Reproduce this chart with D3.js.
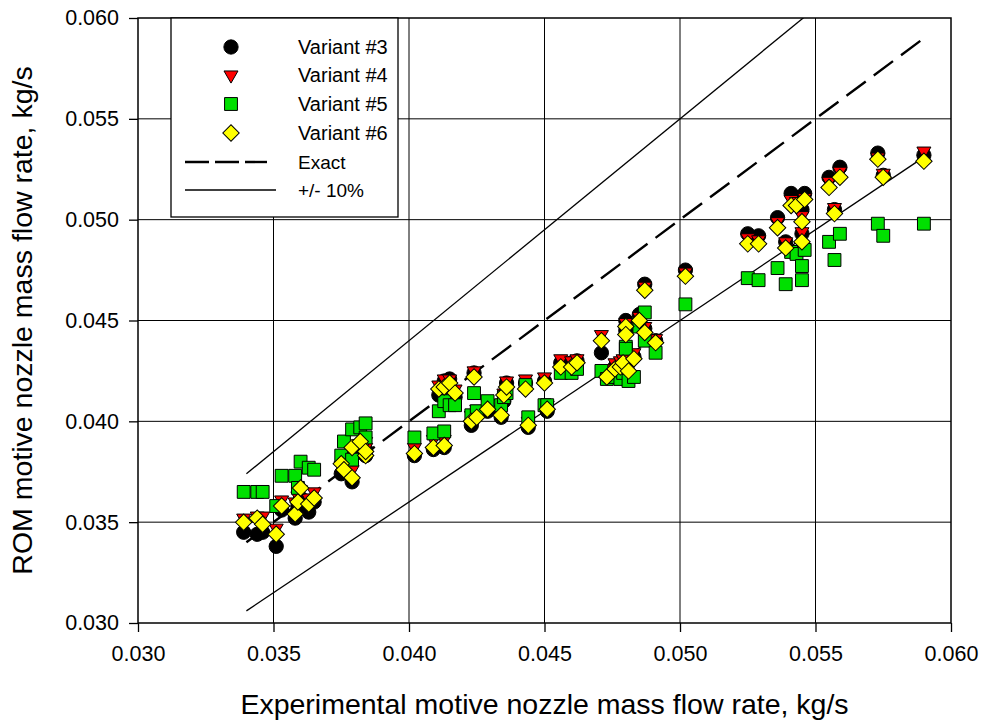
<!DOCTYPE html>
<html>
<head>
<meta charset="utf-8">
<script src="https://cdn.jsdelivr.net/npm/d3@7/dist/d3.min.js"></script>
<style>
  html, body { margin: 0; padding: 0; background: #fff; }
  svg { display: block; font-family: Arial, "Liberation Sans", sans-serif; }
</style>
</head>
<body>
<svg id="chart" width="984" height="722"></svg>
<script>
// ---------------- data ----------------
const xTicks = [0.030, 0.035, 0.040, 0.045, 0.050, 0.055, 0.060];
const yTicks = [0.030, 0.035, 0.040, 0.045, 0.050, 0.055, 0.060];

// experimental motive nozzle mass flow rate (kg/s)
const expFlow = [
  0.0339, 0.0344, 0.0346, 0.0351, 0.0353, 0.0358, 0.0359, 0.0360, 0.0363, 0.0365,
  0.0375, 0.0376, 0.0379, 0.0379, 0.0382, 0.0384, 0.0384, 0.0402, 0.0409, 0.0413,
  0.0411, 0.0413, 0.0415, 0.0417, 0.0423, 0.0424, 0.0425, 0.0429, 0.0434, 0.0435,
  0.0436, 0.0443, 0.0444, 0.0450, 0.0451, 0.0456, 0.0460, 0.0462, 0.0471, 0.0473,
  0.0476, 0.0478, 0.0479, 0.0480, 0.0480, 0.0481, 0.0483, 0.0485, 0.0487, 0.0487,
  0.0491, 0.0502, 0.0525, 0.0529, 0.0536, 0.0539, 0.0541, 0.0543, 0.0545, 0.0545,
  0.0546, 0.0555, 0.0557, 0.0559, 0.0573, 0.0575, 0.0590
];
// ROM predictions (kg/s)
const variant3 = [
  0.0345, 0.0344, 0.0345, 0.0338, 0.0356, 0.0352, 0.0358, 0.0362, 0.0355, 0.0360,
  0.0374, 0.0378, 0.0370, 0.0384, 0.0385, 0.0383, 0.0386, 0.0383, 0.0386, 0.0387,
  0.0413, 0.0420, 0.0421, 0.0412, 0.0398, 0.0424, 0.0403, 0.0405, 0.0402, 0.0410,
  0.0419, 0.0419, 0.0397, 0.0420, 0.0405, 0.0429, 0.0429, 0.0430, 0.0434, 0.0424,
  0.0427, 0.0428, 0.0429, 0.0450, 0.0445, 0.0424, 0.0432, 0.0453, 0.0468, 0.0446,
  0.0440, 0.0475, 0.0493, 0.0492, 0.0501, 0.0489, 0.0513, 0.0511, 0.0505, 0.0493,
  0.0513, 0.0521, 0.0505, 0.0526, 0.0533, 0.0522, 0.0532
];
const variant4 = [
  0.0352, 0.0353, 0.0353, 0.0347, 0.0361, 0.0360, 0.0363, 0.0366, 0.0362, 0.0365,
  0.0378, 0.0381, 0.0376, 0.0386, 0.0389, 0.0387, 0.0390, 0.0387, 0.0391, 0.0391,
  0.0418, 0.0421, 0.0421, 0.0416, 0.0403, 0.0425, 0.0406, 0.0409, 0.0406, 0.0414,
  0.0420, 0.0421, 0.0400, 0.0422, 0.0408, 0.0431, 0.0430, 0.0431, 0.0443, 0.0426,
  0.0429, 0.0430, 0.0431, 0.0449, 0.0446, 0.0426, 0.0434, 0.0452, 0.0467, 0.0447,
  0.0441, 0.0474, 0.0491, 0.0490, 0.0499, 0.0489, 0.0510, 0.0509, 0.0502, 0.0494,
  0.0511, 0.0519, 0.0506, 0.0524, 0.0531, 0.0523, 0.0534
];
const variant5 = [
  0.0365, 0.0365, 0.0365, 0.0358, 0.0373, 0.0373, 0.0367, 0.0380, 0.0377, 0.0376,
  0.0383, 0.0390, 0.0396, 0.0381, 0.0397, 0.0399, 0.0392, 0.0392, 0.0394, 0.0395,
  0.0405, 0.0410, 0.0408, 0.0408, 0.0403, 0.0414, 0.0405, 0.0410, 0.0408, 0.0412,
  0.0414, 0.0418, 0.0402, 0.0408, 0.0408, 0.0424, 0.0424, 0.0426, 0.0425, 0.0421,
  0.0422, 0.0421, 0.0424, 0.0437, 0.0436, 0.0420, 0.0422, 0.0447, 0.0454, 0.0440,
  0.0434, 0.0458, 0.0471, 0.0470, 0.0476, 0.0468, 0.0484, 0.0483, 0.0477, 0.0470,
  0.0485, 0.0489, 0.0480, 0.0493, 0.0498, 0.0492, 0.0498
];
const variant6 = [
  0.0350, 0.0352, 0.0349, 0.0344, 0.0358, 0.0354, 0.0360, 0.0367, 0.0359, 0.0362,
  0.0379, 0.0376, 0.0372, 0.0387, 0.0390, 0.0383, 0.0385, 0.0384, 0.0387, 0.0388,
  0.0416, 0.0417, 0.0419, 0.0414, 0.0400, 0.0422, 0.0402, 0.0406, 0.0403, 0.0413,
  0.0417, 0.0416, 0.0398, 0.0419, 0.0406, 0.0427, 0.0427, 0.0429, 0.0440, 0.0422,
  0.0426, 0.0427, 0.0429, 0.0447, 0.0443, 0.0425, 0.0431, 0.0450, 0.0465, 0.0444,
  0.0439, 0.0472, 0.0488, 0.0488, 0.0496, 0.0486, 0.0507, 0.0507, 0.0499, 0.0489,
  0.0510, 0.0516, 0.0503, 0.0521, 0.0530, 0.0521, 0.0529
];
const seriesNames = ["Variant #3", "Variant #4", "Variant #5", "Variant #6"];
const seriesColors = ["#000000", "#ff0000", "#00e000", "#ffff00"];
const refLineRange = [0.034, 0.059];
const refFactors = [1.0, 1.1, 0.9];
const xTitle = "Experimental motive nozzle mass flow rate, kg/s";
const yTitle = "ROM motive nozzle mass flow rate, kg/s";

// ---------------- chart ----------------
const svg = d3.select("#chart");
const M = { left: 138, right: 951, top: 18, bottom: 623 };
const x = d3.scaleLinear().domain([0.030, 0.060]).range([M.left, M.right]);
const y = d3.scaleLinear().domain([0.030, 0.060]).range([M.bottom, M.top]);

svg.append("rect").attr("width", 984).attr("height", 722).attr("fill", "#fff");

// grid
const grid = svg.append("g");
grid.selectAll("line.gx").data(xTicks.slice(1, -1)).join("line")
  .attr("x1", d => x(d)).attr("x2", d => x(d))
  .attr("y1", M.top).attr("y2", M.bottom)
  .attr("stroke", "#000").attr("stroke-width", 1);
grid.selectAll("line.gy").data(yTicks.slice(1, -1)).join("line")
  .attr("y1", d => y(d)).attr("y2", d => y(d))
  .attr("x1", M.left).attr("x2", M.right)
  .attr("stroke", "#000").attr("stroke-width", 1);

// axes
const fmt = d3.format(".3f");
const xAxis = svg.append("g").attr("transform", `translate(0,${M.bottom})`)
  .call(d3.axisBottom(x).tickValues(xTicks).tickFormat(fmt).tickSize(9).tickPadding(14));
const yAxis = svg.append("g").attr("transform", `translate(${M.left},0)`)
  .call(d3.axisLeft(y).tickValues(yTicks).tickFormat(fmt).tickSize(9).tickPadding(10));
[xAxis, yAxis].forEach(a => {
  a.select(".domain").remove();
  a.selectAll("line").attr("stroke", "#000").attr("stroke-width", 1.3);
  a.selectAll("text").attr("font-size", 21.5).attr("fill", "#000")
    .attr("font-family", "Arial, 'Liberation Sans', sans-serif");
});

// frame
svg.append("rect").attr("x", M.left).attr("y", M.top)
  .attr("width", M.right - M.left).attr("height", M.bottom - M.top)
  .attr("fill", "none").attr("stroke", "#000").attr("stroke-width", 1.5);

// clip
svg.append("clipPath").attr("id", "plotclip").append("rect")
  .attr("x", M.left).attr("y", M.top).attr("width", M.right - M.left).attr("height", M.bottom - M.top);

// reference lines
const refG = svg.append("g").attr("clip-path", "url(#plotclip)");
refFactors.forEach((f, i) => {
  refG.append("line")
    .attr("x1", x(refLineRange[0])).attr("y1", y(refLineRange[0] * f))
    .attr("x2", x(refLineRange[1])).attr("y2", y(refLineRange[1] * f))
    .attr("stroke", "#000")
    .attr("stroke-width", i === 0 ? 2.4 : 1.3)
    .attr("stroke-dasharray", i === 0 ? "24,10" : null);
});

// markers
const series = [variant3, variant4, variant5, variant6];
const sym = [
  d3.symbol().type(d3.symbolCircle).size(160),
  d3.symbol().type(d3.symbolTriangle).size(85),
  d3.symbol().type(d3.symbolSquare).size(165),
  d3.symbol().type(d3.symbolSquare).size(135)
];
function markerPath(i) { return sym[i](); }
function markerTransform(i, px, py) {
  if (i === 1) return `translate(${px},${py}) rotate(180)`;
  if (i === 3) return `translate(${px},${py}) rotate(45)`;
  return `translate(${px},${py})`;
}
const mg = svg.append("g").attr("clip-path", "url(#plotclip)");
series.forEach((vals, i) => {
  mg.append("g").selectAll("path").data(vals).join("path")
    .attr("d", markerPath(i))
    .attr("transform", (d, k) => markerTransform(i, x(expFlow[k]), y(d)))
    .attr("fill", seriesColors[i])
    .attr("stroke", "#000").attr("stroke-width", 1);
});

// legend
const lg = svg.append("g");
lg.append("rect").attr("x", 171).attr("y", M.top).attr("width", 227).attr("height", 199)
  .attr("fill", "#fff").attr("stroke", "#000").attr("stroke-width", 1.3);
const rowY = [47, 75, 104, 133, 162, 190];
seriesNames.forEach((name, i) => {
  lg.append("path").attr("d", markerPath(i))
    .attr("transform", markerTransform(i, 231, rowY[i]))
    .attr("fill", seriesColors[i]).attr("stroke", "#000").attr("stroke-width", 1);
  lg.append("text").attr("x", 298).attr("y", rowY[i]).attr("dy", "0.36em")
    .attr("font-size", 20).text(name);
});
lg.append("line").attr("x1", 185).attr("x2", 267).attr("y1", rowY[4]).attr("y2", rowY[4])
  .attr("stroke", "#000").attr("stroke-width", 2.4).attr("stroke-dasharray", "24,6");
lg.append("text").attr("x", 298).attr("y", rowY[4]).attr("dy", "0.36em").attr("font-size", 19).text("Exact");
lg.append("line").attr("x1", 185).attr("x2", 276).attr("y1", rowY[5]).attr("y2", rowY[5])
  .attr("stroke", "#000").attr("stroke-width", 1.3);
lg.append("text").attr("x", 298).attr("y", rowY[5]).attr("dy", "0.36em").attr("font-size", 19).text("+/- 10%");

// titles
svg.append("text").attr("x", (M.left + M.right) / 2).attr("y", 714)
  .attr("text-anchor", "middle").attr("font-size", 28.5).text(xTitle);
svg.append("text").attr("transform", `translate(32,${(M.top + M.bottom) / 2}) rotate(-90)`)
  .attr("text-anchor", "middle").attr("font-size", 28.5).text(yTitle);
</script>
</body>
</html>
